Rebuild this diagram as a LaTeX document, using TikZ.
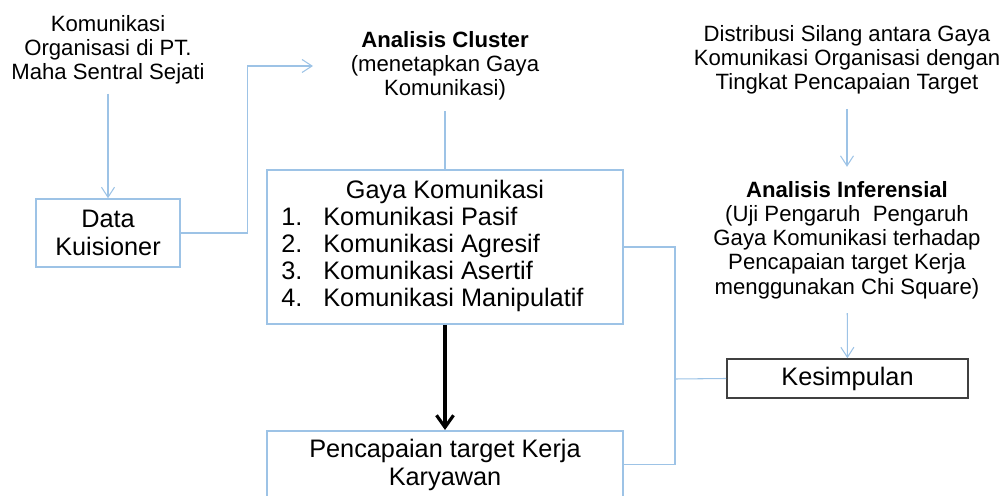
\documentclass[tikz,border=0pt]{standalone}
\usepackage{fontspec}
\setmainfont{Liberation Sans}
\usetikzlibrary{arrows.meta,positioning,calc}
\definecolor{cline}{HTML}{9DC3E6}
\definecolor{cbox}{HTML}{9DC3E6}
\definecolor{cdark}{HTML}{404040}
\tikzset{
  ftxt/.style={align=center, inner sep=2pt, font=\fontsize{12.6}{13.8}\selectfont},
  bbox/.style={draw=cbox, line width=0.9pt, align=center, inner sep=3pt,
               font=\fontsize{14.4}{15.6}\selectfont},
  kbox/.style={bbox, draw=cdark},
  btxt/.style={inner sep=0pt, font=\fontsize{14.4}{15.6}\selectfont},
  link/.style={draw=cline, line width=0.6pt, -{Straight Barb[length=2mm,width=2.6mm]}},
  plain/.style={draw=cline, line width=0.6pt},
  mainflow/.style={line width=1.8pt, -{Straight Barb[length=2.4mm,width=3.4mm,line width=1.8pt]}},
}
\begin{document}
\begin{tikzpicture}[x=0.02cm, y=-0.02cm]
  \useasboundingbox (0,0) rectangle (1005,496);
  % left column
  \node[ftxt] (src) at (108,50) {Komunikasi\\Organisasi di PT.\\Maha Sentral Sejati};
  \node[bbox, minimum width=2.88cm, minimum height=1.36cm] (data) at (108,233) {Data\\Kuisioner};
  \draw[link, shorten <=3pt] (src) -- (data);
  % cluster analysis
  \node[ftxt] (cluster) at (445,66) {\textbf{Analisis Cluster}\\(menetapkan Gaya\\Komunikasi)};
  \coordinate (ctip) at (313,66);
  \draw[link] (data.east) -- ++(67,0) |- (ctip);
  \node[bbox, minimum width=7.12cm, minimum height=3.08cm] (gaya) at (445,247) {};
  \node[btxt, anchor=base] (gtitle) at (445,199) {Gaya Komunikasi};
  \foreach \i/\lbl in {1/Pasif, 2/Agresif, 3/Asertif, 4/Manipulatif}{
    \node[btxt, anchor=base west] (num\i) at (281,199+27*\i) {\i.};
    \node[btxt, anchor=base west] (item\i) at (323,199+27*\i) {Komunikasi \lbl};
  }
  \draw[plain, shorten <=4pt] (cluster) -- (gaya);
  % outcome
  \node[bbox, anchor=north, minimum width=7.12cm, minimum height=1.36cm] (capai) at (445,430) {Pencapaian target Kerja\\Karyawan};
  \draw[mainflow] (gaya) -- (capai);
  % right column
  \node[ftxt] (dist) at (847,60) {Distribusi Silang antara Gaya\\Komunikasi Organisasi dengan\\Tingkat Pencapaian Target};
  \node[ftxt] (infer) at (847,240) {\textbf{Analisis Inferensial}\\(Uji Pengaruh\ \ Pengaruh\\Gaya Komunikasi terhadap\\Pencapaian target Kerja\\menggunakan Chi Square)};
  \node[kbox, minimum width=4.82cm, minimum height=0.78cm] (simpul) at (847.5,378.5) {Kesimpulan};
  \draw[link, shorten <=6pt, shorten >=6pt] (dist) -- (infer);
  \draw[link, shorten <=6pt] (infer) -- (simpul);
  % joining lines
  \coordinate (jn) at (675,379);
  \draw[plain] (gaya.east) -| (jn) |- (capai.east);
  \draw[plain] (jn) -- (simpul.west);
\end{tikzpicture}
\end{document}
